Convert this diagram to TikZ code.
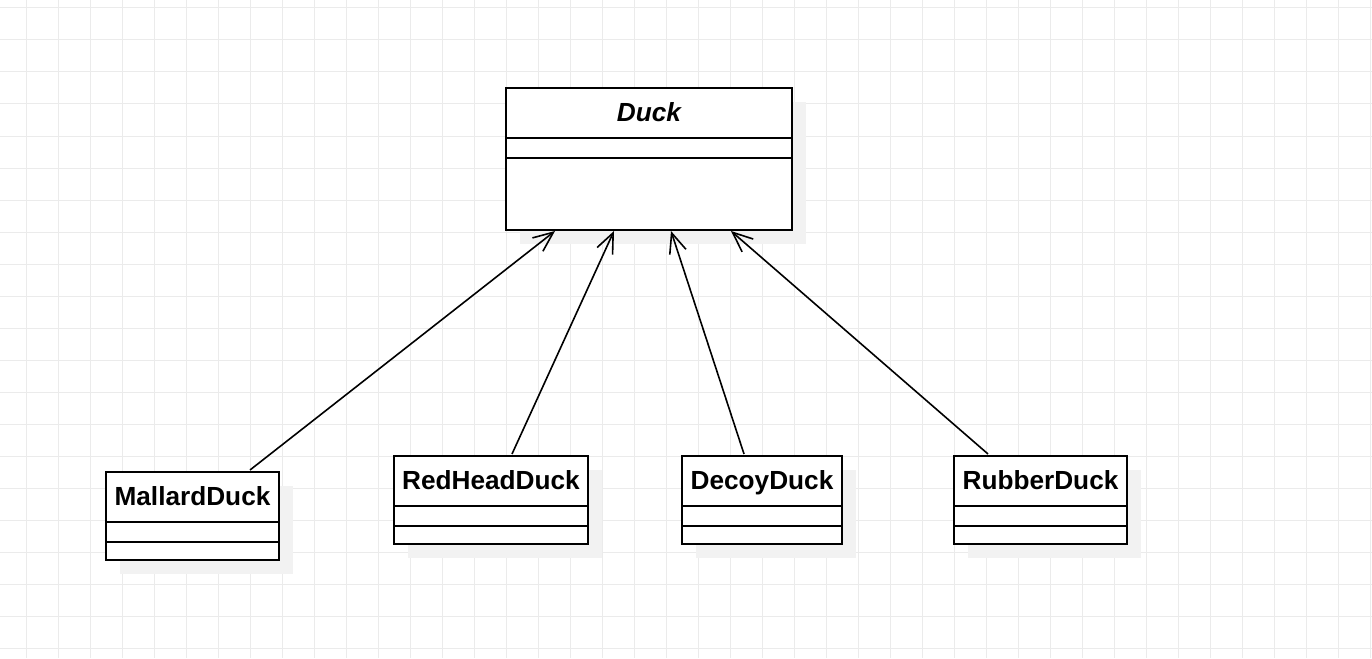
\documentclass[tikz,border=0pt]{standalone}
\usepackage{fontspec}
\setmainfont{Liberation Sans}
\usetikzlibrary{arrows.meta,calc,shadows}
\definecolor{gridcol}{HTML}{EBEBEB}
\definecolor{shadowcol}{HTML}{F2F2F2}
\tikzset{
  classbox/.style={draw=black,line width=2pt,fill=white,anchor=north west,inner sep=0pt,outer sep=0pt,
    drop shadow={shadow xshift=14pt,shadow yshift=-14pt,fill=shadowcol,opacity=1}},
  divider/.style={draw=black,line width=2pt},
  classtitle/.style={anchor=base,inner sep=0pt,font=\fontsize{26.2}{30}\selectfont\bfseries},
  inherit/.style={draw=black,line width=1.6pt,-{Straight Barb[length=20pt,width=17pt,line width=1.6pt]}}
}
\begin{document}
\begin{tikzpicture}[x=1pt,y=-1pt]
\useasboundingbox (0,0) rectangle (1372,658);
\fill[white] (0,0) rectangle (1372,658);
% grid
\foreach \gx in {26,58,...,1370} {\draw[gridcol,line width=1pt] (\gx,0) -- (\gx,658);}
\foreach \gy in {8,40,...,656} {\draw[gridcol,line width=1pt] (0,\gy) -- (1372,\gy);}

% Duck
\node[classbox,minimum width=286pt,minimum height=142pt] (duck) at (506,88) {};
\draw[divider] ($(duck.north west)+(0,50)$) -- ($(duck.north east)+(0,50)$);
\draw[divider] ($(duck.north west)+(0,70)$) -- ($(duck.north east)+(0,70)$);
\node[classtitle,font=\fontsize{26.2}{30}\selectfont\bfseries\itshape] (duckt) at ($(duck.north)+(0,33.5)$) {Duck};

% MallardDuck
\node[classbox,minimum width=173pt,minimum height=88pt] (mallard) at (106,472) {};
\draw[divider] ($(mallard.north west)+(0,50)$) -- ($(mallard.north east)+(0,50)$);
\draw[divider] ($(mallard.north west)+(0,70)$) -- ($(mallard.north east)+(0,70)$);
\node[classtitle] (mallardt) at ($(mallard.north)+(0,33)$) {MallardDuck};

% RedHeadDuck
\node[classbox,minimum width=194pt,minimum height=88pt] (redhead) at (394,456) {};
\draw[divider] ($(redhead.north west)+(0,50)$) -- ($(redhead.north east)+(0,50)$);
\draw[divider] ($(redhead.north west)+(0,70)$) -- ($(redhead.north east)+(0,70)$);
\node[classtitle] (redheadt) at ($(redhead.north)+(0,33)$) {RedHeadDuck};

% DecoyDuck
\node[classbox,minimum width=160pt,minimum height=88pt] (decoy) at (682,456) {};
\draw[divider] ($(decoy.north west)+(0,50)$) -- ($(decoy.north east)+(0,50)$);
\draw[divider] ($(decoy.north west)+(0,70)$) -- ($(decoy.north east)+(0,70)$);
\node[classtitle] (decoyt) at ($(decoy.north)+(0,33)$) {DecoyDuck};

% RubberDuck
\node[classbox,minimum width=173pt,minimum height=88pt] (rubber) at (954,456) {};
\draw[divider] ($(rubber.north west)+(0,50)$) -- ($(rubber.north east)+(0,50)$);
\draw[divider] ($(rubber.north west)+(0,70)$) -- ($(rubber.north east)+(0,70)$);
\node[classtitle] (rubbert) at ($(rubber.north)+(0,33)$) {RubberDuck};

% inheritance arrows
\draw[inherit] ($(mallard.north west)+(144,-2)$) -- ($(duck.south west)+(49,1)$);
\draw[inherit] ($(redhead.north west)+(118,-2)$) -- ($(duck.south west)+(108,1)$);
\draw[inherit] ($(decoy.north west)+(62,-2)$) -- ($(duck.south west)+(165,1)$);
\draw[inherit] ($(rubber.north west)+(34,-2)$) -- ($(duck.south west)+(225,1)$);
\end{tikzpicture}
\end{document}
